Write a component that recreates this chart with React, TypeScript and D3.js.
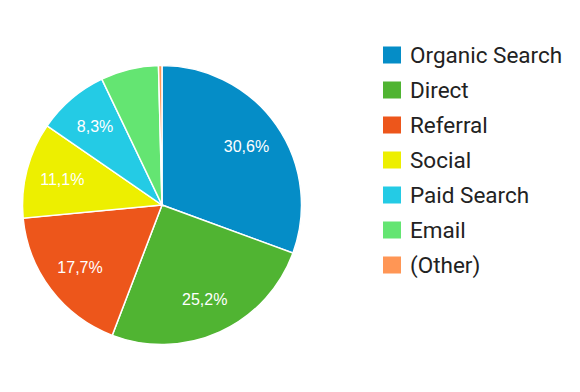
import { useEffect, useRef } from 'react';
import * as d3 from 'd3';

const channels = ['Organic Search', 'Direct', 'Referral', 'Social', 'Paid Search', 'Email', '(Other)'];
const shares = [30.6, 25.2, 17.7, 11.1, 8.3, 6.7, 0.4];
const colors = ['#058dc7', '#50b432', '#ed561b', '#edef00', '#24cbe5', '#64e572', '#ff9655'];

const width = 580;
const height = 392;

export default function App() {
  const svgRef = useRef<SVGSVGElement>(null);

  useEffect(() => {
    const svg = d3.select(svgRef.current);
    svg.selectAll('*').remove();

    const radius = 139.5;
    const cx = 162;
    const cy = 205;

    const data = channels.map((name, i) => ({ name, value: shares[i], color: colors[i] }));

    const pie = d3.pie<any>().value(d => d.value).sort(null);
    const arcs = pie(data);

    const arc = d3.arc<any>().innerRadius(0).outerRadius(radius);
    const labelArc = d3.arc<any>().innerRadius(103).outerRadius(103);

    const g = svg.append('g').attr('transform', `translate(${cx},${cy})`);

    g.selectAll('path')
      .data(arcs)
      .enter()
      .append('path')
      .attr('d', arc)
      .attr('fill', d => d.data.color)
      .attr('stroke', '#fff')
      .attr('stroke-width', 1.5);

    // only slices big enough get a label
    g.selectAll('text')
      .data(arcs.filter(d => d.data.value >= 8))
      .enter()
      .append('text')
      .attr('transform', d => `translate(${labelArc.centroid(d)})`)
      .attr('text-anchor', 'middle')
      .attr('dy', '0.36em')
      .attr('fill', '#fff')
      .style('font-family', '"Liberation Sans", Arial, sans-serif')
      .style('font-size', '16px')
      .text(d => d.data.value.toFixed(1).replace('.', ',') + '%');

    const legend = svg.append('g').attr('transform', 'translate(383,0)');
    const y = d3.scalePoint().domain(channels).range([55, 265]);

    const rows = legend.selectAll('g')
      .data(data)
      .enter()
      .append('g')
      .attr('transform', d => `translate(0,${y(d.name)})`);

    rows.append('rect')
      .attr('x', 0)
      .attr('y', -8.5)
      .attr('width', 18)
      .attr('height', 17)
      .attr('fill', d => d.color);

    rows.append('text')
      .attr('x', 27)
      .attr('dy', '0.36em')
      .attr('fill', '#222')
      .style('font-family', 'Roboto, sans-serif')
      .style('font-size', '22.5px')
      .text(d => d.name);
  }, []);

  return (
    <svg
      ref={svgRef}
      width={width}
      height={height}
      style={{ position: 'absolute', left: 0, top: 0, background: '#fff' }}
    />
  );
}
